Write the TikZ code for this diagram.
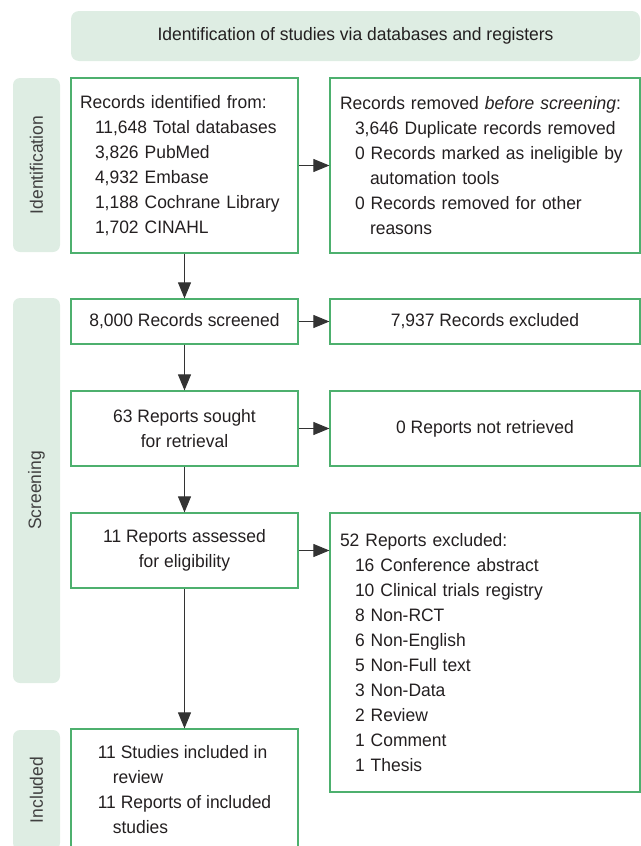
\documentclass[tikz,border=0pt]{standalone}
\usepackage{fontspec}
\setmainfont{Liberation Sans}[FakeStretch=0.97]
\usetikzlibrary{arrows.meta}
\definecolor{boxgreen}{HTML}{4DB06E}
\definecolor{tabgreen}{HTML}{DEEDE3}
\definecolor{inkgray}{HTML}{231F20}

\begin{document}
\begin{tikzpicture}[x=0.5pt,y=-0.5pt,->,>={Triangle[length=8pt,width=6.5pt]},draw=black!80,line width=0.5pt]
	\fontsize{9}{12.5}\selectfont
	\tikzstyle{banner}=[fill=tabgreen,rounded corners=4pt,minimum width=284.5pt,minimum height=25pt,text=inkgray]
	\tikzstyle{tab}=[fill=tabgreen,rounded corners=3.5pt,rotate=90,minimum height=23.5pt,inner sep=0pt,text=black!75]
	\tikzstyle{box}=[draw=boxgreen,line width=0.6pt,inner sep=0pt,text=inkgray,align=center,minimum width=113.5pt]
	\tikzstyle{wbox}=[box,minimum width=155pt]
	\tikzstyle{list}=[box,align=left,text width=104.5pt,inner xsep=4.5pt]
	\tikzstyle{wlist}=[box,align=left,text width=145pt,inner xsep=5pt]
	
	\def \ind{\hspace*{7.5pt}}
	\def \lcol{184.5}
	\def \rcol{485}
	
	\useasboundingbox (0,0) rectangle (641,846);
	
	\node[banner] 	(head)	at (355.5,36)	{Identification of studies via databases and registers};
	
	\node[tab, minimum width=87pt] 		(t-ident)	at (36.5,165)	{Identification};
	\node[tab, minimum width=192.5pt] 	(t-screen)	at (36.5,490.5)	{Screening};
	\node[tab, minimum width=60pt] 		(t-incl)	at (36.5,790)	{Included};
	
	% identification
	\node[list, minimum height=87.5pt] 	(ident)		at (\lcol,165.5)	{Records identified from:\\
		\ind 11,648 Total databases\\
		\ind 3,826 PubMed\\
		\ind 4,932 Embase\\
		\ind 1,188 Cochrane Library\\
		\ind 1,702 CINAHL};
	\node[wlist, minimum height=87.5pt] (removed)	at (\rcol,165.5)	{Records removed \textit{before screening}:\\
		\ind 3,646 Duplicate records removed\\
		\ind 0 Records marked as ineligible by\\
		\ind\ind automation tools\\
		\ind 0 Records removed for other\\
		\ind\ind reasons};
	
	% screening
	\node[box, minimum height=22.5pt] 	(screened)	at (\lcol,321.5)	{8,000 Records screened};
	\node[wbox, minimum height=22.5pt] 	(excluded)	at (\rcol,321.5)	{7,937 Records excluded};
	
	\node[box, minimum height=37.5pt] 	(sought)	at (\lcol,428.5)	{63 Reports sought\\for retrieval};
	\node[wbox, minimum height=37.5pt] 	(notret)	at (\rcol,428.5)	{0 Reports not retrieved};
	
	\node[box, minimum height=37.5pt] 	(assessed)	at (\lcol,550.5)	{11 Reports assessed\\for eligibility};
	\node[wlist, minimum height=139.5pt] (reasons)	at (\rcol,652.5)	{52 Reports excluded:\\
		\ind 16 Conference abstract\\
		\ind 10 Clinical trials registry\\
		\ind 8 Non-RCT\\
		\ind 6 Non-English\\
		\ind 5 Non-Full text\\
		\ind 3 Non-Data\\
		\ind 2 Review\\
		\ind 1 Comment\\
		\ind 1 Thesis};
	
	% included
	\node[box, align=left, minimum height=61pt] (included) at (\lcol,790) {11 Studies included in\\
		\ind review\\
		11 Reports of included\\
		\ind studies};
	
	\draw (ident) -- (removed);
	\draw (ident) -- (screened);
	\draw (screened) -- (excluded);
	\draw (screened) -- (sought);
	\draw (sought) -- (notret);
	\draw (sought) -- (assessed);
	\draw (assessed.east) -- (assessed.east -| reasons.west);
	\draw (assessed) -- (included);
\end{tikzpicture}
\end{document}
